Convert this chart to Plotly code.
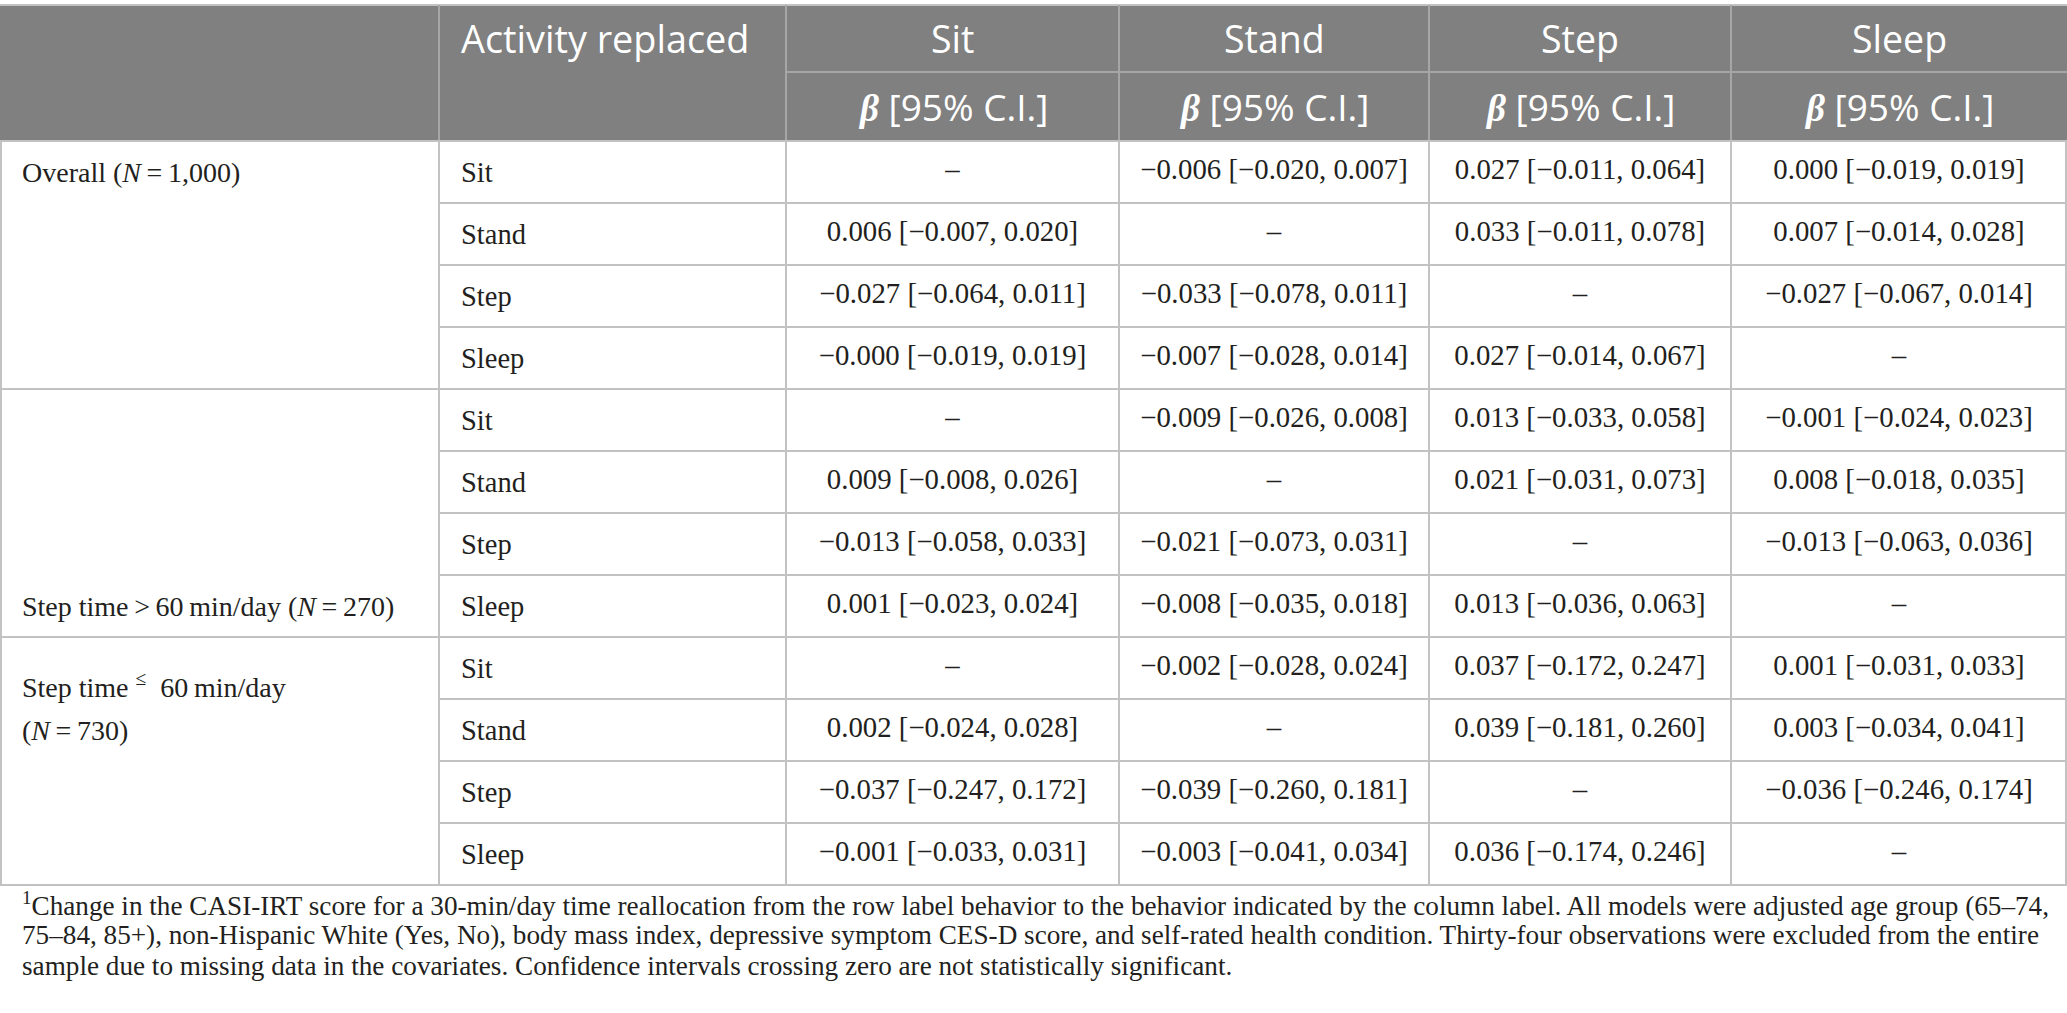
import plotly.graph_objects as go

# table content
activities = ["Sit", "Stand", "Step", "Sleep"]
columns = ["Sit", "Stand", "Step", "Sleep"]
groups = ["Overall (<i>N</i>\u2009=\u20091,000)",
          "Step time\u2009>\u200960\u2009min/day (<i>N</i>\u2009=\u2009270)",
          "Step time <sup>≤</sup>  60\u2009min/day<br>(<i>N</i>\u2009=\u2009730)"]

# beta and 95% CI, rows = 3 groups x 4 replaced activities, None = diagonal
sit_beta = [None, 0.006, -0.027, -0.0, None, 0.009, -0.013, 0.001, None, 0.002, -0.037, -0.001]
sit_low = [None, -0.007, -0.064, -0.019, None, -0.008, -0.058, -0.023, None, -0.024, -0.247, -0.033]
sit_high = [None, 0.020, 0.011, 0.019, None, 0.026, 0.033, 0.024, None, 0.028, 0.172, 0.031]

stand_beta = [-0.006, None, -0.033, -0.007, -0.009, None, -0.021, -0.008, -0.002, None, -0.039, -0.003]
stand_low = [-0.020, None, -0.078, -0.028, -0.026, None, -0.073, -0.035, -0.028, None, -0.260, -0.041]
stand_high = [0.007, None, 0.011, 0.014, 0.008, None, 0.031, 0.018, 0.024, None, 0.181, 0.034]

step_beta = [0.027, 0.033, None, 0.027, 0.013, 0.021, None, 0.013, 0.037, 0.039, None, 0.036]
step_low = [-0.011, -0.011, None, -0.014, -0.033, -0.031, None, -0.036, -0.172, -0.181, None, -0.174]
step_high = [0.064, 0.078, None, 0.067, 0.058, 0.073, None, 0.063, 0.247, 0.260, None, 0.246]

sleep_beta = [0.000, 0.007, -0.027, None, -0.001, 0.008, -0.013, None, 0.001, 0.003, -0.036, None]
sleep_low = [-0.019, -0.014, -0.067, None, -0.024, -0.018, -0.063, None, -0.031, -0.034, -0.246, None]
sleep_high = [0.019, 0.028, 0.014, None, 0.023, 0.035, 0.036, None, 0.033, 0.041, 0.174, None]

footnote = [
    "<sup>1</sup>Change in the CASI-IRT score for a 30-min/day time reallocation from the row label behavior to the behavior indicated by the column label. All models were adjusted age group (65–74,",
    "75–84, 85+), non-Hispanic White (Yes, No), body mass index, depressive symptom CES-D score, and self-rated health condition. Thirty-four observations were excluded from the entire",
    "sample due to missing data in the covariates. Confidence intervals crossing zero are not statistically significant.",
]

# layout (pixels)
W, H = 2067, 1013
col_edges = [0, 439, 786, 1119, 1429, 1731, 2067]
top, head_mid, head_bot = 5, 72, 141
row_h = 62
pad = 20
HEAD_BG = "#808080"
GRID = "#c2c2c2"
TXT = "#231f20"
SERIF = "Liberation Serif"
SANS = "Open Sans"


def fmt(v):
    return f"{v:.3f}".replace("-", "\u2212")


def cell(b, lo, hi):
    if b is None:
        return "–"
    return f"{fmt(b)} [{fmt(lo)}, {fmt(hi)}]"


series = [(sit_beta, sit_low, sit_high), (stand_beta, stand_low, stand_high),
          (step_beta, step_low, step_high), (sleep_beta, sleep_low, sleep_high)]
n_rows = len(sit_beta)
bottom = head_bot + n_rows * row_h

fig = go.Figure()

xs, ys, texts = [], [], []
for j, (b, lo, hi) in enumerate(series):
    cx = (col_edges[j + 2] + col_edges[j + 3]) / 2
    for i in range(n_rows):
        xs.append(cx)
        ys.append(head_bot + (i + 0.5) * row_h)
        texts.append(cell(b[i], lo[i], hi[i]))

fig.add_trace(go.Scatter(x=xs, y=ys, text=texts, mode="text", textposition="middle center",
                         textfont=dict(family=SERIF, size=28.8, color=TXT), hoverinfo="skip",
                         showlegend=False))

# header background + lines
fig.add_shape(type="rect", x0=0, x1=W, y0=top, y1=head_bot, fillcolor=HEAD_BG, line_width=0, layer="below")
fig.add_shape(type="line", x0=0, x1=W, y0=top, y1=top, line=dict(color=GRID, width=2))
fig.add_shape(type="line", x0=col_edges[2], x1=W, y0=head_mid, y1=head_mid, line=dict(color="#a6a6a6", width=2))
for x in col_edges[1:-1]:
    fig.add_shape(type="line", x0=x, x1=x, y0=top, y1=head_bot, line=dict(color="#a6a6a6", width=2))

# body grid
for i in range(n_rows + 1):
    y = head_bot + i * row_h
    x0 = 0 if i % 4 == 0 else col_edges[1]
    fig.add_shape(type="line", x0=x0, x1=W, y0=y, y1=y, line=dict(color=GRID, width=2))
for x in [1] + col_edges[1:-1] + [W - 1]:
    fig.add_shape(type="line", x0=x, x1=x, y0=head_bot, y1=bottom, line=dict(color=GRID, width=2))

# header text
fig.add_annotation(x=col_edges[1] + pad, y=(top + head_mid) / 2, text="Activity replaced", xanchor="left",
                   yanchor="middle", showarrow=False, font=dict(family=SANS, size=37.8, color="white"))
for j, name in enumerate(columns):
    cx = (col_edges[j + 2] + col_edges[j + 3]) / 2
    fig.add_annotation(x=cx, y=(top + head_mid) / 2, text=name, showarrow=False,
                       font=dict(family=SANS, size=37.5, color="white"))
    fig.add_annotation(x=cx, y=(head_mid + head_bot) / 2,
                       text='<span style="font-family:Liberation Serif"><b><i>β</i></b></span> [95% C.I.]',
                       showarrow=False, font=dict(family=SANS, size=37, color="white"))

# row labels
for g in range(3):
    for k, a in enumerate(activities):
        i = g * 4 + k
        fig.add_annotation(x=col_edges[1] + pad, y=head_bot + (i + 0.5) * row_h, text=a, xanchor="left",
                           showarrow=False, font=dict(family=SERIF, size=28.5, color=TXT))

group_y = [head_bot + 0.5 * row_h, head_bot + 7.5 * row_h, head_bot + 8 * row_h + 48]
for g, label in enumerate(groups):
    for li, part in enumerate(label.split("<br>")):
        fig.add_annotation(x=pad, y=group_y[g] + li * 45, text=part, xanchor="left", showarrow=False,
                           font=dict(family=SERIF, size=28, color=TXT))

# footnote
for li, line in enumerate(footnote):
    fig.add_annotation(x=pad, y=bottom + 19 + li * 31, text=line, xanchor="left", showarrow=False,
                       font=dict(family=SERIF, size=27.2, color=TXT))

fig.update_layout(width=W, height=H, margin=dict(l=0, r=0, t=0, b=0),
                  paper_bgcolor="white", plot_bgcolor="white",
                  xaxis=dict(range=[0, W], visible=False, fixedrange=True),
                  yaxis=dict(range=[H, 0], visible=False, fixedrange=True))

fig.write_html("out.html", config={"displayModeBar": False},
               post_script="document.body.style.margin='0px';document.body.style.overflow='hidden';")
